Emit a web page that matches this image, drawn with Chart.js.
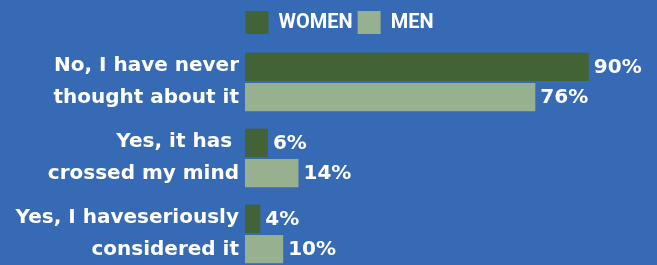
<!DOCTYPE html>
<html>
<head>
<meta charset="utf-8">
<script src="https://cdn.jsdelivr.net/npm/chart.js@4/dist/chart.umd.min.js"></script>
<style>
  html, body { margin: 0; padding: 0; background: #366AB4; overflow: hidden; }
  #wrap { position: relative; width: 657px; height: 272px; }
</style>
</head>
<body>
<div id="wrap"><canvas id="c"></canvas></div>
<script>
const categories = [
  ["No, I have never", "thought about it"],
  ["Yes, it has ", "crossed my mind"],
  ["Yes, I haveseriously", "considered it"]
];
const seriesNames = ["WOMEN", "MEN"];
const women = [90, 6, 4];
const men = [76, 14, 10];

const LABEL_FONT = "'DejaVu Sans'";
const LEGEND_FONT = "Roboto";
const WHITE = "#ffffff";

const valueLabels = {
  id: 'valueLabels',
  afterDatasetsDraw(chart) {
    const ctx = chart.ctx;
    ctx.save();
    ctx.fillStyle = WHITE;
    ctx.font = "bold 20px " + LABEL_FONT;
    ctx.textAlign = 'left';
    ctx.textBaseline = 'middle';
    chart.data.datasets.forEach((ds, di) => {
      const meta = chart.getDatasetMeta(di);
      meta.data.forEach((el, i) => {
        ctx.fillText(ds.data[i] + '%', el.x + 5, el.y + 1);
      });
    });
    ctx.restore();
  }
};

// shift the legend so it is centred over the bars region like the original
const legendShift = {
  id: 'legendShift',
  afterLayout(chart) {
    const lg = chart.legend;
    if (lg) { lg.left += 26; lg.right += 26; }
  }
};

new Chart(document.getElementById('c'), {
  type: 'bar',
  data: {
    labels: categories,
    datasets: [
      { label: seriesNames[0], data: women, backgroundColor: '#426336', borderWidth: 0,
        categoryPercentage: 0.8, barPercentage: 0.93 },
      { label: seriesNames[1], data: men, backgroundColor: '#97B08F', borderWidth: 0,
        categoryPercentage: 0.8, barPercentage: 0.93 }
    ]
  },
  options: {
    indexAxis: 'y',
    responsive: true,
    maintainAspectRatio: false,
    animation: false,
    layout: { padding: { top: 6, left: 0, right: 30, bottom: 0 } },
    plugins: {
      legend: {
        position: 'top',
        labels: {
          color: WHITE,
          font: { family: LEGEND_FONT, size: 20, weight: 'bold' },
          boxWidth: 23,
          boxHeight: 23,
          padding: 5
        }
      },
      tooltip: { enabled: false }
    },
    scales: {
      x: {
        display: false,
        min: 0,
        max: 100
      },
      y: {
        grid: { display: false, drawTicks: false },
        border: { display: false },
        afterFit(scale) {
          scale.width = 245;
          scale.paddingTop = 0;
          scale.paddingBottom = 0;
        },
        ticks: {
          color: WHITE,
          padding: 6,
          font: { family: LABEL_FONT, size: 20, weight: 'bold', lineHeight: 1.6 }
        }
      }
    }
  },
  plugins: [valueLabels, legendShift]
});
</script>
</body>
</html>
